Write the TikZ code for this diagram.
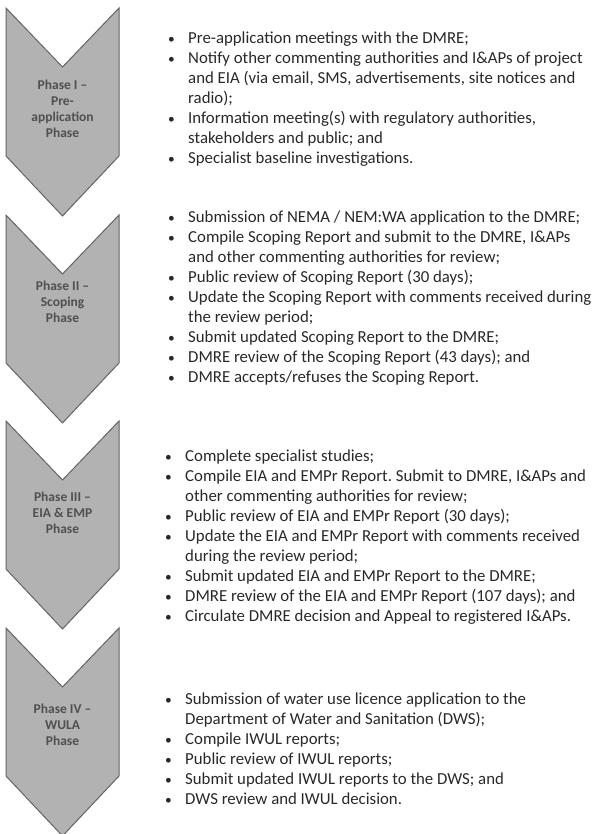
\documentclass[tikz,border=0pt]{standalone}
\usepackage{fontspec}
\setmainfont{Carlito}
\frenchspacing
\definecolor{chevrongray}{RGB}{178,178,178}
\definecolor{chevronedge}{RGB}{100,100,100}
\definecolor{labelgray}{RGB}{80,80,80}
\definecolor{textgray}{RGB}{40,40,40}
\newcommand{\bul}{\strut\makebox[22pt][l]{\hspace*{2pt}\scalebox{0.8}{\textbullet}}}
\newcommand{\ind}{\strut\hspace*{22pt}}

\begin{document}
\begin{tikzpicture}[
        x=1pt, y=-1pt,
        chevron/.style={fill=chevrongray, draw=chevronedge, line width=1pt, line join=miter},
        phase label/.style={align=center, text=labelgray, font=\fontsize{13.5}{16}\selectfont\bfseries},
        step list/.style={anchor=north west, inner sep=0pt, align=left, text=textgray,
            font=\fontsize{16.8}{20}\selectfont}
    ]
    \useasboundingbox (0,0) rectangle (593,834);

    \foreach \ytop in {8,215,421,628}{
        \filldraw[chevron] (6,\ytop) -- (62.5,\ytop+59) -- (119,\ytop) -- (119,\ytop+148)
            -- (62.5,\ytop+208) -- (6,\ytop+148) -- cycle;
    }

    \node[phase label] (phaseI) at (62.5,109) {Phase I --\\Pre-\\application\\Phase};
    \node[phase label] (phaseII) at (62.5,302) {Phase II --\\Scoping\\Phase};
    \node[phase label] (phaseIII) at (62.5,513) {Phase III --\\EIA \& EMP\\Phase};
    \node[phase label] (phaseIV) at (62.5,725) {Phase IV --\\WULA\\Phase};

    \node[step list] (stepsI) at (166,29) {
        \bul Pre-application meetings with the DMRE;\\
        \bul Notify other commenting authorities and I\&APs of project\\
        \ind and EIA (via email, SMS, advertisements, site notices and\\
        \ind radio);\\
        \bul Information meeting(s) with regulatory authorities,\\
        \ind stakeholders and public; and\\
        \bul Specialist baseline investigations.};

    \node[step list] (stepsII) at (166,208) {
        \bul Submission of NEMA / NEM:WA application to the DMRE;\\
        \bul Compile Scoping Report and submit to the DMRE, I\&APs\\
        \ind and other commenting authorities for review;\\
        \bul Public review of Scoping Report (30 days);\\
        \bul Update the Scoping Report with comments received during\\
        \ind the review period;\\
        \bul Submit updated Scoping Report to the DMRE;\\
        \bul DMRE review of the Scoping Report (43 days); and\\
        \bul DMRE accepts/refuses the Scoping Report.};

    \node[step list] (stepsIII) at (163,447) {
        \bul Complete specialist studies;\\
        \bul Compile EIA and EMPr Report. Submit to DMRE, I\&APs and\\
        \ind other commenting authorities for review;\\
        \bul Public review of EIA and EMPr Report (30 days);\\
        \bul Update the EIA and EMPr Report with comments received\\
        \ind during the review period;\\
        \bul Submit updated EIA and EMPr Report to the DMRE;\\
        \bul DMRE review of the EIA and EMPr Report (107 days); and\\
        \bul Circulate DMRE decision and Appeal to registered I\&APs.};

    \node[step list] (stepsIV) at (163,690) {
        \bul Submission of water use licence application to the\\
        \ind Department of Water and Sanitation (DWS);\\
        \bul Compile IWUL reports;\\
        \bul Public review of IWUL reports;\\
        \bul Submit updated IWUL reports to the DWS; and\\
        \bul DWS review and IWUL decision.};
\end{tikzpicture}
\end{document}
